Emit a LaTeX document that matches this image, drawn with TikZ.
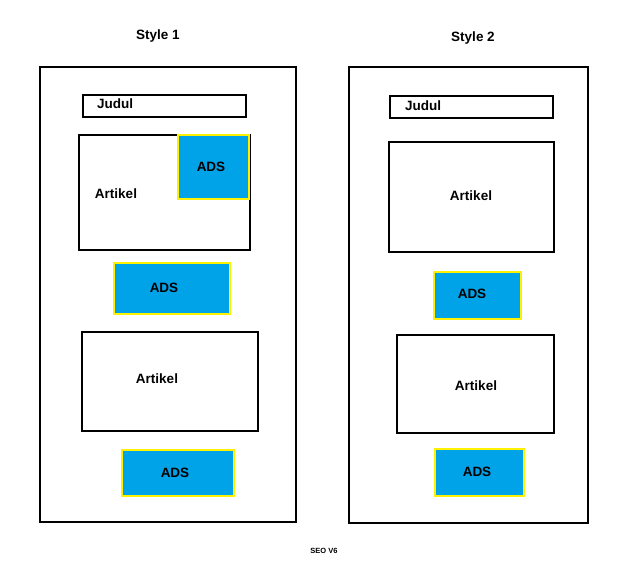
\documentclass[tikz,border=0pt]{standalone}
\usepackage{fontspec}
\setmainfont{Liberation Sans}
\definecolor{adsblue}{HTML}{00A2E8}
\definecolor{adsyellow}{HTML}{FFF200}

\begin{document}
\begin{tikzpicture}[x=1pt, y=-1pt,
    frame/.style={draw=black, line width=2.6pt},
    adsbox/.style={fill=adsblue, draw=adsyellow, line width=2.6pt},
    lbl/.style={font=\bfseries\fontsize{13.5}{15}\selectfont, text height=9.7pt, text depth=0pt, inner sep=0pt}]
  \useasboundingbox (0,0) rectangle (640,561);

  % style 1
  \node[lbl] (title1) at (158,35) {Style 1};
  \draw[frame] (40,67) rectangle (296,522);
  \draw[frame] (83,95) rectangle (246,117);
  \node[lbl] (judul1) at (115,104) {Judul};
  \draw[frame] (79,135) rectangle (250,250);
  \filldraw[adsbox] (178,135) rectangle (249,199);
  \node[lbl] (artikel1) at (116,194) {Artikel};
  \node[lbl] (ads1) at (211,167) {ADS};
  \filldraw[adsbox] (114,263) rectangle (230,314);
  \node[lbl] (ads2) at (164,288) {ADS};
  \draw[frame] (82,332) rectangle (258,431);
  \node[lbl] (artikel2) at (157,379) {Artikel};
  \filldraw[adsbox] (122,450) rectangle (234,496);
  \node[lbl] (ads3) at (175,473) {ADS};

  % style 2
  \node[lbl] (title2) at (473,37) {Style 2};
  \draw[frame] (349,67) rectangle (588,523);
  \draw[frame] (390,96) rectangle (553,118);
  \node[lbl] (judul2) at (423,106) {Judul};
  \draw[frame] (389,142) rectangle (554,252);
  \node[lbl] (artikel3) at (471,196) {Artikel};
  \filldraw[adsbox] (434,272) rectangle (521,319);
  \node[lbl] (ads4) at (472,294) {ADS};
  \draw[frame] (397,335) rectangle (554,433);
  \node[lbl] (artikel4) at (476,386) {Artikel};
  \filldraw[adsbox] (435,449) rectangle (524,496);
  \node[lbl] (ads5) at (477,472) {ADS};

  \node (seo) at (324,551) [font=\bfseries\fontsize{7.5}{9}\selectfont] {SEO V6};
\end{tikzpicture}
\end{document}
